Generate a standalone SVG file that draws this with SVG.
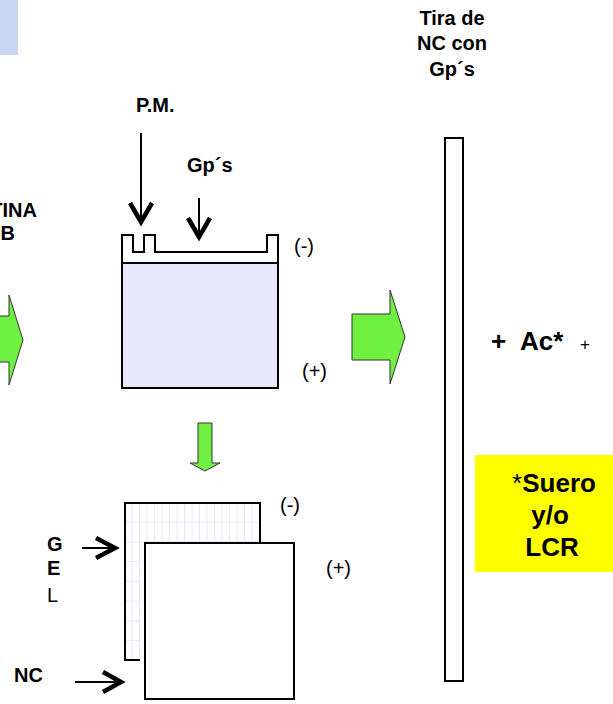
<svg xmlns="http://www.w3.org/2000/svg" width="613" height="704" viewBox="0 0 613 704">
<style>
.lb{font-family:"Liberation Sans",Arial,sans-serif;font-weight:bold;font-size:20px;fill:#000}
.rg{font-family:"Liberation Sans",Arial,sans-serif;font-weight:normal;font-size:20px;fill:#000}
.big{font-family:"Liberation Sans",Arial,sans-serif;font-weight:bold;font-size:26px;fill:#000}
.ln{stroke:#000;stroke-width:2;fill:none}
.hd{stroke:#000;stroke-width:4.5;fill:none;stroke-linejoin:miter}
.blk{fill:#70f040;stroke:#333;stroke-width:1}
.box{stroke:#000;stroke-width:2}
</style>
<defs>
<pattern id="grid" x="125" y="503" width="7.5" height="19.7" patternUnits="userSpaceOnUse">
<rect width="7.5" height="19.7" fill="#fff"/>
<line x1="7.5" y1="0" x2="7.5" y2="19.7" stroke="#e2e2fb" stroke-width="1.6"/>
<line x1="0" y1="19.7" x2="7.5" y2="19.7" stroke="#e2e2fb" stroke-width="1.6"/>
</pattern>
</defs>
<rect x="0" y="0" width="18" height="55" fill="#c6d6ee"/>
<g id="label-left">
<text class="lb" x="37" y="217" text-anchor="end">TINA</text>
<text class="lb" x="15" y="240" text-anchor="end">B</text>
</g>
<g id="gel-top">
<rect x="122" y="263" width="156" height="125" fill="#e8e8fb"/>
<path d="M122,388 V235 H133 V252 H144 V235 H155 V252 H267 V235 H278 V388 Z" class="ln"/>
<line x1="122" y1="263" x2="278" y2="263" class="ln"/>
<text class="rg" x="294" y="253">(-)</text>
<text class="rg" x="302" y="378">(+)</text>
</g>
<g id="label-pm"><text class="lb" x="136" y="112">P.M.</text></g>
<g id="label-gps"><text class="lb" x="187" y="172">Gp´s</text></g>
<g id="gel-bottom">
<rect x="125" y="503" width="135" height="157" fill="url(#grid)" class="box"/>
<rect x="140" y="543" width="154" height="160" fill="#fff"/>
<rect x="145" y="543" width="149" height="156" fill="#fff" class="box"/>
<text class="rg" x="280" y="512">(-)</text>
<text class="rg" x="326" y="575">(+)</text>
</g>
<g id="label-gel">
<text class="lb" x="47" y="551">G</text>
<text class="lb" x="47" y="575">E</text>
<text class="rg" x="47" y="602">L</text>
</g>
<g id="label-nc"><text class="lb" x="14" y="682">NC</text></g>
<g id="strip">
<rect x="445" y="138" width="18" height="543" fill="#fff" class="box"/>
<text class="lb" x="452" y="25" text-anchor="middle">Tira de</text>
<text class="lb" x="452" y="50" text-anchor="middle">NC con</text>
<text class="lb" x="452" y="76" text-anchor="middle">Gp´s</text>
</g>
<g id="antibody">
<text class="big" x="491" y="350">+</text>
<text class="big" x="520" y="350">Ac*</text>
<text class="rg" x="580" y="350" style="font-size:17px">+</text>
</g>
<g id="sample">
<rect x="475" y="455" width="140" height="117" fill="#ffff00"/>
<text class="big" x="554" y="492" text-anchor="middle"><tspan font-weight="normal">*</tspan>Suero</text>
<text class="big" x="550" y="524" text-anchor="middle">y/o</text>
<text class="big" x="552" y="556" text-anchor="middle">LCR</text>
</g>
<g id="connectors">
<polygon class="blk" points="-30,316 9,316 9,295 23,340 9,385 9,362 -30,362"/>
<polygon class="blk" points="352,314 390,314 390,290 405,337 390,384 390,360 352,360"/>
<polygon class="blk" points="198,423 212,423 212,463 220,463 205,471 190,463 198,463"/>
<line x1="141" y1="133" x2="141" y2="220" class="ln"/>
<polyline points="130,203 141,222 152,203" class="hd"/>
<line x1="199" y1="198" x2="199" y2="235" class="ln"/>
<polyline points="188,218 199,237 210,218" class="hd"/>
<line x1="82" y1="548" x2="113" y2="548" class="ln"/>
<polyline points="96,538 115,548 96,558" class="hd"/>
<line x1="75" y1="682" x2="119" y2="682" class="ln"/>
<polyline points="103,672 121,682 103,692" class="hd"/>
</g>
</svg>
